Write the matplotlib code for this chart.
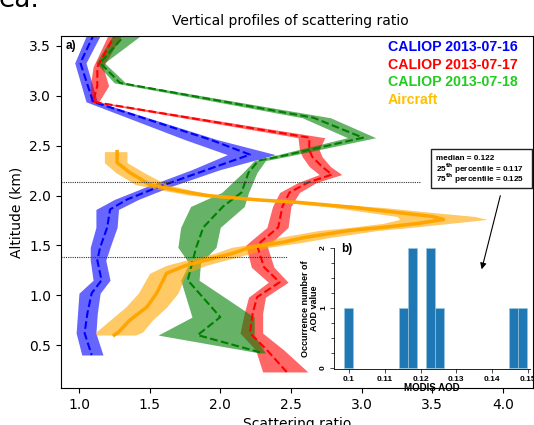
import matplotlib
matplotlib.use("Agg")
import matplotlib.pyplot as plt
import numpy as np

# ---------------- data ----------------
# CALIOP 2013-07-16 (blue)
blue_alt = [3.63, 3.33, 2.94, 2.56, 2.41, 2.26, 2.09, 1.96, 1.86, 1.68, 1.48, 1.35, 1.15, 1.02, 0.82, 0.62, 0.40]
blue_sr  = [1.11, 1.01, 1.10, 1.93, 2.21, 1.91, 1.57, 1.34, 1.22, 1.20, 1.15, 1.13, 1.16, 1.09, 1.06, 1.04, 1.09]
blue_lo  = [1.06, 0.97, 1.05, 1.75, 2.05, 1.80, 1.48, 1.25, 1.12, 1.12, 1.08, 1.08, 1.10, 1.00, 0.99, 0.98, 1.02]
blue_hi  = [1.16, 1.05, 1.13, 1.98, 2.39, 2.00, 1.65, 1.42, 1.28, 1.27, 1.22, 1.19, 1.22, 1.15, 1.13, 1.12, 1.17]

# CALIOP 2013-07-17 (red)
red_alt = [3.65, 3.29, 3.10, 2.94, 2.58, 2.46, 2.39, 2.29, 2.21, 2.13, 2.03, 1.89, 1.68, 1.55, 1.50, 1.28, 1.13, 0.98, 0.82, 0.62, 0.45, 0.23]
red_sr  = [1.27, 1.13, 1.13, 1.10, 2.63, 2.63, 2.65, 2.72, 2.79, 2.62, 2.49, 2.44, 2.41, 2.30, 2.26, 2.31, 2.42, 2.26, 2.23, 2.21, 2.33, 2.47]
red_lo  = [1.22, 1.10, 1.08, 1.08, 2.55, 2.56, 2.58, 2.63, 2.70, 2.55, 2.42, 2.37, 2.33, 2.22, 2.18, 2.22, 2.34, 2.20, 2.17, 2.14, 2.25, 2.30]
red_hi  = [1.32, 1.17, 1.21, 1.14, 2.74, 2.70, 2.72, 2.78, 2.86, 2.68, 2.56, 2.50, 2.48, 2.38, 2.33, 2.38, 2.48, 2.32, 2.30, 2.30, 2.45, 2.62]

# CALIOP 2013-07-18 (green)
green_alt = [3.65, 3.33, 3.13, 2.78, 2.58, 2.40, 2.35, 2.23, 2.03, 1.89, 1.68, 1.48, 1.32, 1.15, 0.78, 0.60, 0.42]
green_sr  = [1.35, 1.15, 1.29, 2.66, 3.01, 2.45, 2.27, 2.20, 2.15, 2.02, 1.88, 1.83, 1.80, 1.77, 2.00, 1.84, 2.30]
green_lo  = [1.26, 1.12, 1.25, 2.58, 2.90, 2.38, 2.24, 2.16, 2.01, 1.79, 1.72, 1.70, 1.78, 1.72, 1.80, 1.56, 2.28]
green_hi  = [1.48, 1.18, 1.33, 2.78, 3.10, 2.50, 2.32, 2.26, 2.20, 2.17, 2.00, 1.97, 1.86, 1.85, 2.24, 2.24, 2.32]

# Aircraft (orange)
air_alt = [2.44, 2.33, 2.23, 2.11, 2.05, 2.00, 1.955, 1.93, 1.88, 1.83, 1.79, 1.76, 1.72, 1.68, 1.65, 1.58, 1.53, 1.48, 1.42, 1.36, 1.30, 1.22, 1.02, 0.88, 0.75, 0.63, 0.60]
air_sr  = [1.27, 1.27, 1.36, 1.50, 1.70, 1.90, 2.28, 2.56, 2.95, 3.25, 3.50, 3.58, 3.40, 3.15, 2.92, 2.60, 2.44, 2.21, 2.09, 1.92, 1.76, 1.62, 1.55, 1.48, 1.36, 1.28, 1.25]
air_lo  = [1.18, 1.18, 1.26, 1.40, 1.60, 1.80, 2.18, 2.46, 2.80, 3.05, 3.25, 3.27, 3.15, 2.92, 2.70, 2.42, 2.30, 2.08, 1.96, 1.78, 1.62, 1.50, 1.42, 1.33, 1.22, 1.12, 1.12]
air_hi  = [1.34, 1.34, 1.46, 1.62, 1.80, 2.00, 2.38, 2.68, 3.15, 3.50, 3.80, 3.89, 3.62, 3.35, 3.12, 2.78, 2.58, 2.34, 2.22, 2.06, 1.90, 1.76, 1.70, 1.62, 1.52, 1.45, 1.40]

# reference altitudes (dotted lines)
ref_alt = [2.136, 1.384]
ref_xend = [3.41, 2.47]

# MODIS AOD histogram
aod_centers = [0.0999, 0.1153, 0.1178, 0.1228, 0.1253, 0.1460, 0.1485]
aod_counts = [1, 1, 2, 2, 1, 1, 1]
aod_width = 0.0025
aod_ticks = [0.10, 0.11, 0.12, 0.13, 0.14, 0.15]
aod_ticklabels = ["0.1", "0.11", "0.12", "0.13", "0.14", "0.15"]

legend_labels = ["CALIOP 2013-07-16", "CALIOP 2013-07-17", "CALIOP 2013-07-18", "Aircraft"]
legend_colors = ["#0000ff", "#ff0000", "#22cc22", "#ffc000"]

stats_lines = ["median = 0.122",
               "25$^{\\mathbf{th}}$ percentile = 0.117",
               "75$^{\\mathbf{th}}$ percentile = 0.125"]

# ---------------- figure ----------------
W, H = 534, 425
fig = plt.figure(figsize=(W / 100, H / 100), dpi=100)

def fx(px):
    return px / W

def fy(py):
    return 1 - py / H

ax = fig.add_axes([fx(61), fy(388), fx(533) - fx(61), fy(36) - fy(388)])

series = [
    (blue_alt, blue_sr, blue_lo, blue_hi, "#0000ff", "--", 1.5),
    (red_alt, red_sr, red_lo, red_hi, "#ff0000", "--", 1.5),
    (green_alt, green_sr, green_lo, green_hi, "#008000", "--", 1.5),
]
for alt, sr, lo, hi, col, ls, lw in series:
    ax.fill_betweenx(alt, lo, hi, color=col, alpha=0.6, linewidth=0)
    ax.plot(sr, alt, color=col, ls=ls, lw=lw)

ax.fill_betweenx(air_alt, air_lo, air_hi, color="#ffa500", alpha=0.6, linewidth=0)
ax.plot(air_sr, air_alt, color="#ffa500", lw=2.5)

xl = (0.873, 4.213)
for a, xe in zip(ref_alt, ref_xend):
    ax.plot([xl[0], xe], [a, a], color="#333333", ls=(0, (1, 1)), lw=0.8)

ax.set_xlim(*xl)
ax.set_ylim(0.069, 3.600)
ax.set_xticks([1.0, 1.5, 2.0, 2.5, 3.0, 3.5, 4.0])
ax.set_yticks([0.5, 1.0, 1.5, 2.0, 2.5, 3.0, 3.5])
ax.tick_params(labelsize=10)
ax.set_xlabel("Scattering ratio", fontsize=10)
ax.set_ylabel("Altitude (km)", fontsize=10)
ax.set_title("Vertical profiles of scattering ratio", fontsize=10, x=(290 - 61) / (533 - 61), pad=8)

ax.text(fx(66), fy(46), "a)", transform=fig.transFigure, fontsize=8.5,
        fontweight="bold", family="Liberation Sans", va="center", ha="left")

for i, (lab, col) in enumerate(zip(legend_labels, legend_colors)):
    fig.text(fx(388), fy(47 + 17.7 * i), lab, color=col, fontsize=10.2, fontweight="bold",
             family="Liberation Sans", va="center", ha="left")

# partial text at very top (cut off by the image edge)
fig.text(fx(-1), fy(7), "ea.", fontsize=19, va="baseline", ha="left")

# stats box
fig.patches.append(matplotlib.patches.Rectangle(
    (fx(431), fy(188)), fx(532) - fx(431), fy(149) - fy(188), transform=fig.transFigure,
    facecolor="white", edgecolor="#222222", lw=1.0, zorder=5))
for i, line in enumerate(stats_lines):
    fig.text(fx(436), fy(158 + 10.3 * i), line, fontsize=5.9, fontweight="bold",
             family="Liberation Sans", va="center", ha="left", zorder=6)

fig.add_artist(matplotlib.patches.FancyArrowPatch(
    (fx(501), fy(193)), (fx(481), fy(272)), transform=fig.transFigure,
    arrowstyle="-|>", mutation_scale=9, color="black", lw=0.8))

# inset
axi = fig.add_axes([fx(334), fy(369), fx(530) - fx(334), fy(248) - fy(369)])
axi.bar(aod_centers, aod_counts, width=aod_width, color="#1f77b4", edgecolor="#9ecae1", linewidth=0.4)
axi.set_xlim(0.0958, 0.1506)
axi.set_ylim(-0.02, 2.0)
axi.set_xticks(aod_ticks)
axi.set_xticklabels(aod_ticklabels)
axi.set_yticks([0, 1, 2])
axi.set_yticks(np.arange(0, 2.01, 0.25), minor=True)
axi.spines["top"].set_visible(False)
axi.spines["right"].set_visible(False)
axi.spines["left"].set_linewidth(0.6)
axi.spines["bottom"].set_linewidth(0.6)
axi.tick_params(axis="both", which="major", labelsize=6, length=3, width=0.5, pad=2)
axi.tick_params(axis="both", which="minor", length=2, width=0.5)
for t in axi.get_yticklabels():
    t.set_rotation(90)
    t.set_va("center")
    t.set_fontweight("bold")
    t.set_family("Liberation Sans")
for t in axi.get_xticklabels():
    t.set_fontweight("bold")
    t.set_family("Liberation Sans")
axi.set_xlabel("MODIS AOD", fontsize=7, fontweight="bold", family="Liberation Sans", labelpad=0)
axi.set_ylabel("Occurrence number of\nAOD value", fontsize=6.5, fontweight="bold",
               family="Liberation Sans", labelpad=1, linespacing=1.0)
axi.text(fx(341), fy(249), "b)", transform=fig.transFigure, fontsize=8.5,
         fontweight="bold", family="Liberation Sans", va="center", ha="left")

fig.savefig("out.png", dpi=100)
